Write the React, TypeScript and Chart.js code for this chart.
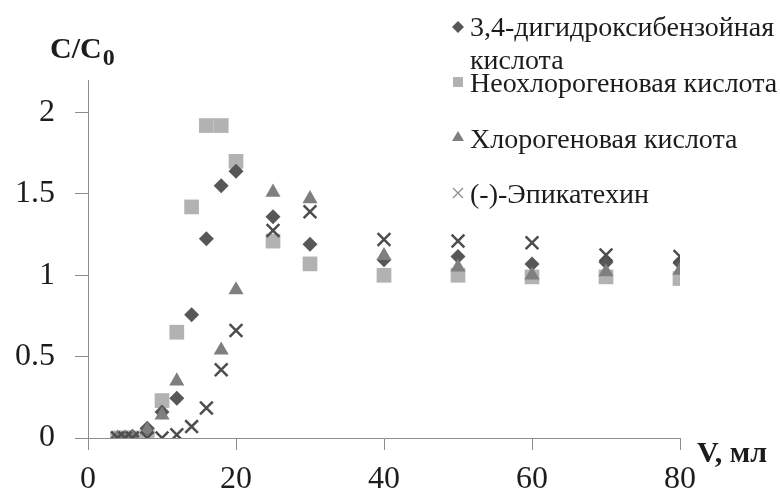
import React, { useEffect, useRef } from "react";
import { Chart, registerables } from "chart.js";

Chart.register(...registerables);

// Elution volume, ml
const volumes = [4, 5, 6, 8, 10, 12, 14, 16, 18, 20, 25, 30, 40, 50, 60, 70, 80];

// Relative concentration C/C0 for each compound
const dihydroxybenzoic = [0, 0, 0.01, 0.06, 0.16, 0.245, 0.757, 1.225, 1.55, 1.64, 1.36, 1.19, 1.095, 1.115, 1.07, 1.08, 1.075];
const neochlorogenic = [0, 0, 0, 0.02, 0.23, 0.65, 1.42, 1.92, 1.92, 1.7, 1.21, 1.07, 1.0, 1.0, 0.99, 0.99, 0.98];
const chlorogenic = [0, 0, 0, 0.05, 0.14, 0.35, null, null, 0.54, 0.91, 1.51, 1.47, 1.12, 1.05, 1.0, 1.02, 1.03];
const epicatechin = [0, 0, 0, 0, 0, 0.02, 0.07, 0.185, 0.42, 0.66, 1.275, 1.39, 1.22, 1.21, 1.2, 1.125, 1.115];

const seriesNames = [
  ["3,4-дигидроксибензойная", "кислота"],
  ["Неохлорогеновая кислота"],
  ["Хлорогеновая кислота"],
  ["(-)-Эпикатехин"],
];

const yTitle = "C/C";
const yTitleSub = "0";
const xTitle = "V, мл";

const FAMILY = "Liberation Serif";
const SERIF = `'${FAMILY}', 'Times New Roman', serif`;
const AXIS = "#8c8c8c";
const TEXT = "#1c1c1c";
const C_DIAMOND = "#575757";
const C_SQUARE = "#b2b2b2";
const C_TRIANGLE = "#7f7f7f";
const C_CROSS = "#4d4d4d";

const toPoints = (ys: (number | null)[]) =>
  volumes.map((x, i) => ({ x, y: ys[i] })).filter((p) => p.y !== null);

function drawMarker(ctx: CanvasRenderingContext2D, kind: string, x: number, y: number, color: string) {
  ctx.save();
  ctx.fillStyle = color;
  ctx.strokeStyle = color;
  ctx.beginPath();
  if (kind === "diamond") {
    ctx.moveTo(x, y - 6);
    ctx.lineTo(x + 6, y);
    ctx.lineTo(x, y + 6);
    ctx.lineTo(x - 6, y);
    ctx.closePath();
    ctx.fill();
  } else if (kind === "square") {
    ctx.rect(x - 5, y - 5, 10, 10);
    ctx.fill();
  } else if (kind === "triangle") {
    ctx.moveTo(x, y - 6);
    ctx.lineTo(x + 6, y + 4);
    ctx.lineTo(x - 6, y + 4);
    ctx.closePath();
    ctx.fill();
  } else {
    ctx.lineWidth = 1.2;
    ctx.moveTo(x - 5, y - 5);
    ctx.lineTo(x + 5, y + 5);
    ctx.moveTo(x + 5, y - 5);
    ctx.lineTo(x - 5, y + 5);
    ctx.stroke();
  }
  ctx.restore();
}

const decorPlugin = {
  id: "decor",
  afterDraw(chart: any) {
    const ctx: CanvasRenderingContext2D = chart.ctx;
    ctx.save();
    ctx.fillStyle = TEXT;
    ctx.textBaseline = "alphabetic";
    ctx.textAlign = "left";

    // axis titles
    ctx.font = `bold 30px ${SERIF}`;
    ctx.fillText(yTitle, 50, 58);
    const w = ctx.measureText(yTitle).width;
    ctx.font = `bold 24px ${SERIF}`;
    ctx.fillText(yTitleSub, 50 + w + 1, 65);

    ctx.font = `bold 30px ${SERIF}`;
    ctx.fillText(xTitle, 697, 462);

    // legend
    ctx.font = `28px ${SERIF}`;
    const kinds = ["diamond", "square", "triangle", "cross"];
    const colors = [C_DIAMOND, C_SQUARE, C_TRIANGLE, "#8a8a8a"];
    const baselines = [[36, 69], [92], [148], [203]];
    const markerY = [27, 82, 137, 193];
    seriesNames.forEach((lines, i) => {
      drawMarker(ctx, kinds[i], 458, markerY[i], colors[i]);
      ctx.fillStyle = TEXT;
      lines.forEach((line, j) => ctx.fillText(line, 470, baselines[i][j]));
    });
    ctx.restore();
  },
};

export default function App() {
  const ref = useRef<HTMLCanvasElement>(null);

  useEffect(() => {
    let chart: Chart | null = null;
    let cancelled = false;

    const build = () => {
      if (cancelled || !ref.current) return;
      chart = new Chart(ref.current, {
        type: "scatter",
        data: {
          datasets: [
            {
              label: seriesNames[0].join(" "),
              data: toPoints(dihydroxybenzoic),
              pointStyle: "rectRot",
              pointRadius: 7.5,
              backgroundColor: C_DIAMOND,
              borderColor: C_DIAMOND,
              borderWidth: 0,
              order: 2,
            },
            {
              label: seriesNames[1].join(" "),
              data: toPoints(neochlorogenic),
              pointStyle: "rect",
              pointRadius: 10.4,
              backgroundColor: C_SQUARE,
              borderColor: C_SQUARE,
              borderWidth: 0,
              order: 3,
            },
            {
              label: seriesNames[2].join(" "),
              data: toPoints(chlorogenic),
              pointStyle: "triangle",
              pointRadius: 8.7,
              backgroundColor: C_TRIANGLE,
              borderColor: C_TRIANGLE,
              borderWidth: 0,
              order: 1,
            },
            {
              label: seriesNames[3].join(" "),
              data: toPoints(epicatechin),
              pointStyle: "crossRot",
              pointRadius: 9,
              backgroundColor: C_CROSS,
              borderColor: C_CROSS,
              borderWidth: 2.5,
              order: 0,
            },
          ],
        },
        options: {
          responsive: false,
          animation: false,
          devicePixelRatio: 1,
          layout: { padding: { left: 0, top: 80, right: 100, bottom: 0 } },
          plugins: { legend: { display: false }, tooltip: { enabled: false } },
          scales: {
            x: {
              type: "linear",
              min: 0,
              max: 80,
              afterFit: (s: any) => {
                s.height = 57;
              },
              ticks: {
                stepSize: 20,
                color: TEXT,
                font: { family: SERIF, size: 32 },
                padding: 10,
                maxRotation: 0,
                callback: (v: any) => String(v),
              },
              grid: { drawOnChartArea: false, drawTicks: true, tickLength: 12, color: AXIS, lineWidth: 1 },
              border: { color: AXIS, width: 1 },
            },
            y: {
              type: "linear",
              min: 0,
              max: 2.2,
              afterFit: (s: any) => {
                s.width = 88;
              },
              ticks: {
                stepSize: 0.5,
                includeBounds: false,
                color: TEXT,
                font: { family: SERIF, size: 32 },
                padding: 20,
                callback: (v: any) => String(Math.round(Number(v) * 10) / 10),
              },
              grid: { drawOnChartArea: false, drawTicks: true, tickLength: 13, color: AXIS, lineWidth: 1 },
              border: { color: AXIS, width: 1 },
            },
          },
        },
        plugins: [decorPlugin],
      });
    };

    const fonts: any = (document as any).fonts;
    if (fonts && fonts.load) {
      Promise.all([
        fonts.load(`32px '${FAMILY}'`, "0123456789"),
        fonts.load(`bold 30px '${FAMILY}'`, "C/V, мл"),
        fonts.load(`28px '${FAMILY}'`, "Неохлорогеновая"),
      ])
        .catch(() => undefined)
        .then(build);
    } else {
      build();
    }

    return () => {
      cancelled = true;
      if (chart) chart.destroy();
    };
  }, []);

  return (
    <div style={{ position: "fixed", left: 0, top: 0, width: 780, height: 495, background: "#fff" }}>
      <canvas ref={ref} width={780} height={495} style={{ width: 780, height: 495 }} />
    </div>
  );
}
